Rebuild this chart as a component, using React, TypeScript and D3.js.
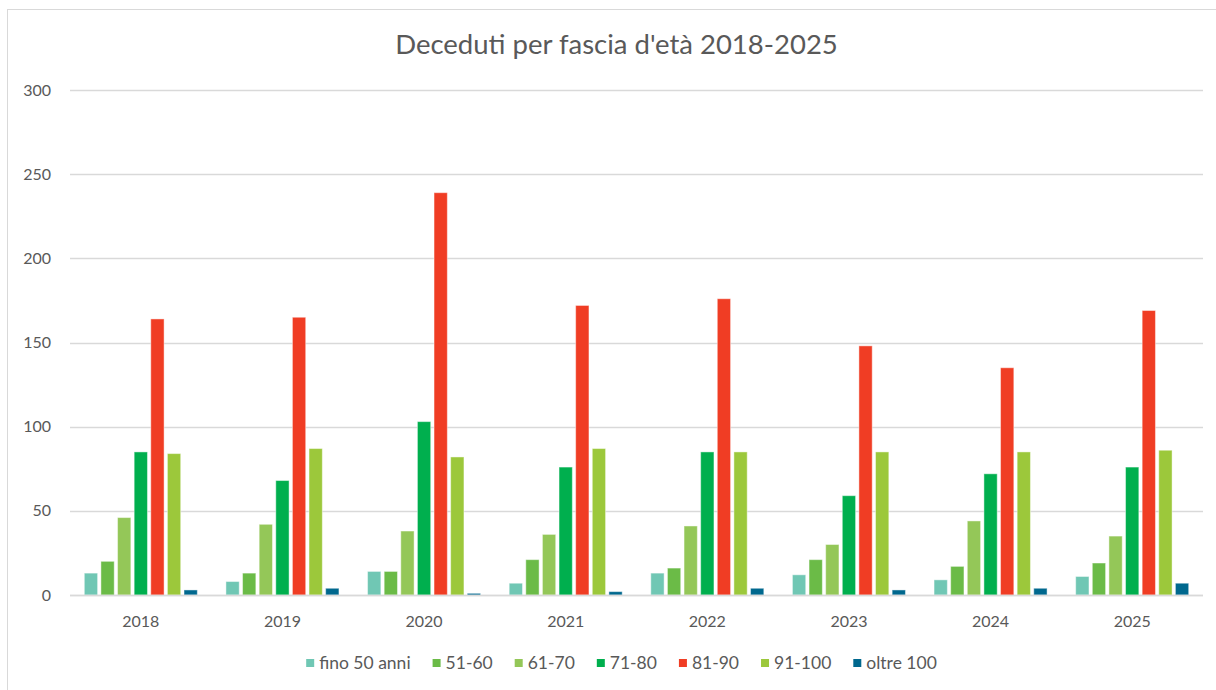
import React, { useEffect, useRef } from "react";
import * as d3 from "d3";

const years = ["2018", "2019", "2020", "2021", "2022", "2023", "2024", "2025"];
const seriesNames = ["fino 50 anni", "51-60", "61-70", "71-80", "81-90", "91-100", "oltre 100"];
const seriesColors = ["#70C7B4", "#6BBB47", "#94C758", "#00AF4E", "#F03D24", "#9CC83B", "#00688E"];

const fino50 = [13, 8, 14, 7, 13, 12, 9, 11];
const s51_60 = [20, 13, 14, 21, 16, 21, 17, 19];
const s61_70 = [46, 42, 38, 36, 41, 30, 44, 35];
const s71_80 = [85, 68, 103, 76, 85, 59, 72, 76];
const s81_90 = [164, 165, 239, 172, 176, 148, 135, 169];
const s91_100 = [84, 87, 82, 87, 85, 85, 85, 86];
const oltre100 = [3, 4, 1, 2, 4, 3, 4, 7];

const seriesValues = [fino50, s51_60, s61_70, s71_80, s81_90, s91_100, oltre100];
const yTicks = [0, 50, 100, 150, 200, 250, 300];
const title = "Deceduti per fascia d'età 2018-2025";

const W = 1216;
const H = 690;
const FONT = "Lato, 'Open Sans', sans-serif";
const TEXT = "#595959";
const GRID = "#D9D9D9";

export default function App() {
  const ref = useRef<SVGSVGElement>(null);

  useEffect(() => {
    const svg = d3.select(ref.current);
    svg.selectAll("*").remove();

    const left = 70, right = 1203, top = 90, bottom = 595;

    // chart border
    svg.append("rect")
      .attr("x", 7.5).attr("y", 9.5)
      .attr("width", 1240).attr("height", 720)
      .attr("fill", "#fff").attr("stroke", GRID).attr("stroke-width", 1);

    const y = d3.scaleLinear().domain([0, 300]).range([bottom, top]);
    const x0 = d3.scaleBand<string>().domain(years).range([left, right]).padding(0);
    const gw = x0.bandwidth();
    const outer = gw * 0.101;
    const x1 = d3.scaleBand<string>().domain(seriesNames).range([outer, gw - outer]).paddingInner(0.2).paddingOuter(0);

    // gridlines
    svg.append("g").selectAll("line").data(yTicks).join("line")
      .attr("x1", left).attr("x2", right)
      .attr("y1", d => Math.round(y(d)) + 0.5).attr("y2", d => Math.round(y(d)) + 0.5)
      .attr("stroke", GRID).attr("stroke-width", 1.3);

    // y labels
    svg.append("g").selectAll("text").data(yTicks).join("text")
      .attr("x", 51).attr("y", d => y(d)).attr("dy", "0.35em")
      .attr("text-anchor", "end")
      .attr("font-family", FONT).attr("font-size", 16).attr("fill", TEXT)
      .text(d => String(d));

    // bars
    const groups = svg.append("g").selectAll("g").data(years).join("g")
      .attr("transform", d => `translate(${x0(d)},0)`);
    groups.selectAll("rect").data((yr) => seriesNames.map((s, j) => ({ s, j, v: seriesValues[j][years.indexOf(yr)] })))
      .join("rect")
      .attr("x", d => x1(d.s)!)
      .attr("width", x1.bandwidth())
      .attr("y", d => y(d.v))
      .attr("height", d => bottom - y(d.v))
      .attr("fill", d => seriesColors[d.j])
      .attr("stroke", "#ffffff").attr("stroke-opacity", 0.45).attr("stroke-width", 1);

    // x axis line
    svg.append("line")
      .attr("x1", left).attr("x2", right).attr("y1", bottom + 0.5).attr("y2", bottom + 0.5)
      .attr("stroke", GRID).attr("stroke-width", 1.3);

    // x labels
    svg.append("g").selectAll("text").data(years).join("text")
      .attr("x", d => x0(d)! + gw / 2).attr("y", 627)
      .attr("text-anchor", "middle")
      .attr("font-family", FONT).attr("font-size", 16).attr("fill", TEXT)
      .text(d => d);

    // title
    svg.append("text")
      .attr("x", 616.5).attr("y", 54)
      .attr("text-anchor", "middle")
      .attr("font-family", FONT).attr("font-size", 27.5).attr("fill", TEXT)
      .text(title);

    // legend
    const leg = svg.append("g");
    const items = leg.selectAll("g").data(seriesNames).join("g");
    items.append("rect").attr("x", 0).attr("y", -4).attr("width", 8).attr("height", 8)
      .attr("fill", (d, i) => seriesColors[i]);
    const texts = items.append("text").attr("x", 13).attr("y", 0).attr("dy", "0.35em")
      .attr("font-family", FONT).attr("font-size", 17.5).attr("fill", TEXT)
      .text(d => d);
    let cx = 0;
    const widths: number[] = [];
    texts.each(function () { widths.push((this as SVGTextElement).getComputedTextLength()); });
    const positions: number[] = [];
    widths.forEach(w => { positions.push(cx); cx += 13 + w + 22; });
    const total = cx - 22;
    const startX = 621.5 - total / 2;
    items.attr("transform", (d, i) => `translate(${startX + positions[i]},663)`);
  }, []);

  return (
    <svg ref={ref} width={W} height={H}
      style={{ position: "absolute", left: 0, top: 0, background: "#fff" }} />
  );
}
